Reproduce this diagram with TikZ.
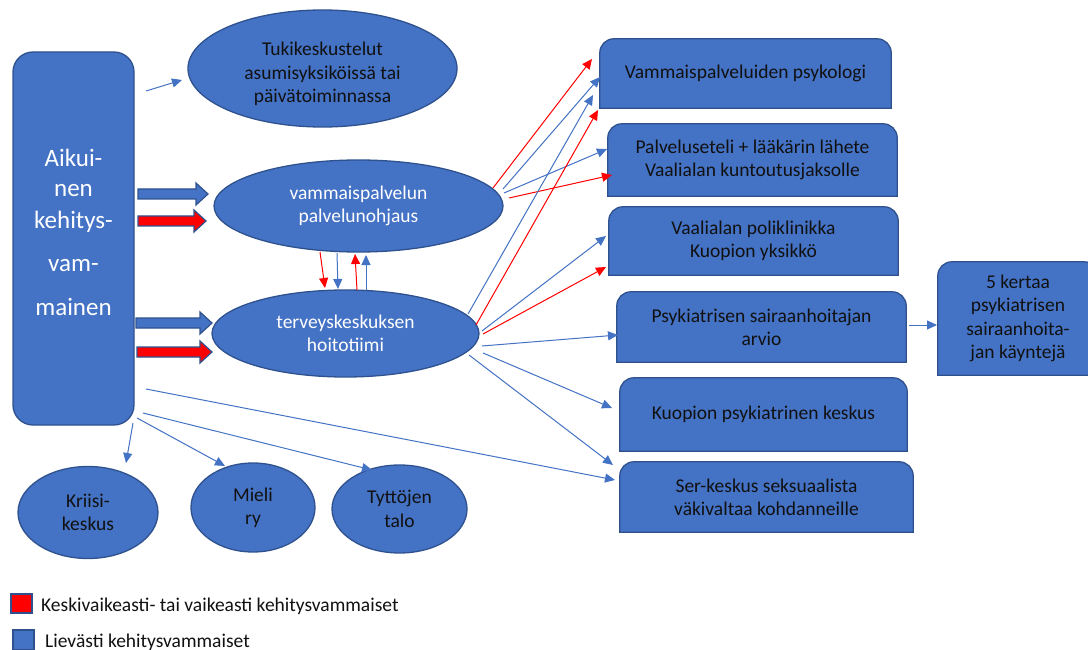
\documentclass[tikz,border=0pt]{standalone}
\usepackage{fontspec}
\setmainfont{Carlito}
\usetikzlibrary{shapes.geometric, arrows.meta, calc, backgrounds}
\definecolor{bfill}{HTML}{4472C4}
\definecolor{bdraw}{HTML}{2F528F}
\definecolor{lblue}{HTML}{4472C4}
\definecolor{rred}{HTML}{FF0000}
\definecolor{txt}{HTML}{111111}

\newcommand\roundtop[1]{%
  \filldraw[shapecol] let \p1=(#1.south west), \p2=(#1.north east) in
    (\x1,\y1) -- (\x2,\y1) -- (\x2,\y2-14pt)
    .. controls (\x2,\y2-6.3pt) and (\x2-6.3pt,\y2) .. (\x2-14pt,\y2)
    -- (\x1+14pt,\y2)
    .. controls (\x1+6.3pt,\y2) and (\x1,\y2-6.3pt) .. (\x1,\y2-14pt) -- cycle;}

\newcommand\blockarr[3]{%
  \filldraw[#1] let \p1=#2, \p2=#3 in
    (\x1,\y1+5pt) -- (\x2-12pt,\y1+5pt) -- (\x2-12pt,\y1+11pt) -- (\x2,\y1)
    -- (\x2-12pt,\y1-11pt) -- (\x2-12pt,\y1-5pt) -- (\x1,\y1-5pt) -- cycle;}

\tikzset{
  shapecol/.style={fill=bfill, draw=bdraw, line width=1.3pt},
  ell/.style={ellipse, shapecol, inner sep=0pt, align=center},
  rbox/.style={rectangle, draw=none, inner sep=0pt, align=center, text=txt},
  mainbox/.style={rectangle, rounded corners=20pt, shapecol, inner sep=0pt},
  maintxt/.style={align=center, text=white, font=\fontsize{25}{30}\selectfont},
  tx/.style={align=center, text=txt},
  legsq/.style={rectangle, draw=bdraw, line width=1.3pt, inner sep=0pt},
  conb/.style={draw=lblue, line width=1pt, -{Triangle[length=10pt,width=9pt]}},
  conr/.style={draw=rred, line width=1pt, -{Triangle[length=10pt,width=9pt]}},
  barrow/.style={fill=bfill, draw=bdraw, line width=1.2pt},
  rarrow/.style={fill=rred, draw=bdraw, line width=1.2pt},
}

\begin{document}
\begin{tikzpicture}[x=1pt, y=-1pt, font=\fontsize{19.5}{23.3}\selectfont]
\useasboundingbox (0,0) rectangle (1088,650);

% left column
\node[mainbox, minimum width=121pt, minimum height=373pt,
  label={[maintxt, yshift=6pt]center:{Aikui-\\nen\\[2pt]kehitys-\\[13pt]vam-\\[14pt]mainen}}]
  (main) at (73.5,238.5) {};

% ellipses
\node[ell, minimum width=269pt, minimum height=117pt,
  label={[tx, yshift=-5.5pt]center:{Tukikeskustelut\\asumisyksiköissä tai\\päivätoiminnassa}}]
  (T) at (322.5,68.5) {};
\node[ell, minimum width=289pt, minimum height=92pt, text=white] (V) at (358.5,206) {vammaispalvelun\\palvelunohjaus};
\node[ell, minimum width=267pt, minimum height=87pt, text=white] (K) at (345.5,333.5) {terveyskeskuksen\\hoitotiimi};

\node[ell, minimum width=140pt, minimum height=92pt, text=txt] (kr) at (88,512.5) {Kriisi-\\keskus};
\node[ell, minimum width=124pt, minimum height=89pt, text=txt] (mi) at (253,507.5) {Mieli\\ry};
\node[ell, minimum width=135pt, minimum height=88pt, text=txt] (ty) at (399.5,509) {Tyttöjen\\talo};

% right boxes
\node[rbox, minimum width=291pt, minimum height=69pt] (b1) at (745.5,73.5) {\raisebox{4.5pt}{Vammaispalveluiden psykologi}};
\node[rbox, minimum width=289pt, minimum height=72pt] (b2) at (752.5,160) {Palveluseteli + lääkärin lähete\\Vaalialan kuntoutusjaksolle};
\node[rbox, minimum width=289pt, minimum height=68pt] (b3) at (753.5,241) {Vaalialan poliklinikka\\Kuopion yksikkö};
\node[rbox, minimum width=289pt, minimum height=70pt] (b4) at (761.5,327) {Psykiatrisen sairaanhoitajan\\arvio};
\node[rbox, minimum width=287pt, minimum height=73pt] (b5) at (763.5,414.5) {\raisebox{4.5pt}{Kuopion psykiatrinen keskus}};
\node[rbox, minimum width=293pt, minimum height=70pt] (b6) at (766.5,497) {Ser-keskus seksuaalista\\väkivaltaa kohdanneille};
\node[rbox, minimum width=160pt, minimum height=113pt] (b7) at (1018,318.5) {5 kertaa\\psykiatrisen\\sairaanhoita-\\jan käyntejä};

% legend
\node[legsq, fill=rred, minimum width=21pt, minimum height=19pt] (lr) at (21.5,603.5) {};
\node[anchor=base west, text=txt, inner sep=0pt] (lrt) at (41,611) {Keskivaikeasti- tai vaikeasti kehitysvammaiset};
\node[legsq, fill=bfill, minimum width=21pt, minimum height=20pt] (lb) at (23.5,640) {};
\node[anchor=base west, text=txt, inner sep=0pt] (lbt) at (45,647) {Lievästi kehitysvammaiset};

% box shapes behind texts
\begin{scope}[on background layer]
  \fill[white] (0,0) rectangle (1088,650);
  \roundtop{b1}
  \roundtop{b2}
  \roundtop{b3}
  \roundtop{b4}
  \roundtop{b5}
  \roundtop{b6}
  \roundtop{b7}
\end{scope}

% block arrows
\blockarr{barrow}{($(main.center)+(64.5,-44.5)$)}{($(V.center)+(-150.5,0)$)}
\blockarr{rarrow}{($(main.center)+(64.5,-17.5)$)}{($(V.center)+(-152.5,0)$)}
\blockarr{barrow}{($(main.center)+(62.5,84.5)$)}{($(K.center)+(-133.5,0)$)}
\blockarr{rarrow}{($(main.center)+(63.5,113.5)$)}{($(K.center)+(-133.5,0)$)}

% connectors from main
\draw[conb] ($(main.center)+(72.5,-147.5)$) -- ($(T.center)+(-140.5,11.5)$);
\draw[conb] ($(main.center)+(59.5,184.5)$) -- ($(kr.center)+(38,-49.5)$);
\draw[conb] ($(main.center)+(63.5,179.5)$) -- ($(mi.center)+(-28,-41.5)$);
\draw[conb] ($(main.center)+(69.5,174.5)$) -- ($(ty.center)+(-27.5,-39)$);
\draw[conb] ($(main.center)+(72.5,150.5)$) -- ($(b6.center)+(-151.5,-17)$);

% connectors from vammaispalvelun palvelunohjaus
\draw[conr] ($(V.center)+(134.5,-18)$) -- ($(b1.center)+(-153.5,-14.5)$);
\draw[conb] ($(V.center)+(144.5,-17)$) -- ($(b1.center)+(-145.5,3.5)$);
\draw[conb] ($(V.center)+(145.5,-13)$) -- ($(b2.center)+(-145.5,-11)$);
\draw[conr] ($(V.center)+(150.5,-8)$) -- ($(b2.center)+(-140.5,15)$);

% connectors from terveyskeskuksen hoitotiimi
\draw[conb] ($(K.center)+(122.5,-19.5)$) -- ($(b1.center)+(-152.5,21.5)$);
\draw[conr] ($(K.center)+(130.5,-8.5)$) -- ($(b1.center)+(-147.5,36.5)$);
\draw[conb] ($(K.center)+(136.5,-2.5)$) -- ($(b3.center)+(-147.5,-5)$);
\draw[conr] ($(K.center)+(137.5,0.5)$) -- ($(b3.center)+(-147.5,26)$);
\draw[conb] ($(K.center)+(136.5,12.5)$) -- ($(b4.center)+(-143.5,8)$);
\draw[conb] ($(K.center)+(137.5,19.5)$) -- ($(b5.center)+(-151.5,-6.5)$);
\draw[conb] ($(K.center)+(123.5,21.5)$) -- ($(b6.center)+(-153.5,-32)$);
\draw[conb] ($(b4.center)+(147.5,-2)$) -- ($(b7.center)+(-81,6.5)$);

% between the two middle ellipses
\draw[conr] ($(V.center)+(-38.5,46)$) -- ($(K.center)+(-20.5,-45.5)$);
\draw[conb] ($(V.center)+(-21.5,47)$) -- ($(K.center)+(-7.5,-44.5)$);
\draw[conr] ($(K.center)+(11.5,-43.5)$) -- ($(V.center)+(-3.5,48)$);
\draw[conb] ($(K.center)+(20.5,-43.5)$) -- ($(V.center)+(7.5,49)$);
\end{tikzpicture}
\end{document}
